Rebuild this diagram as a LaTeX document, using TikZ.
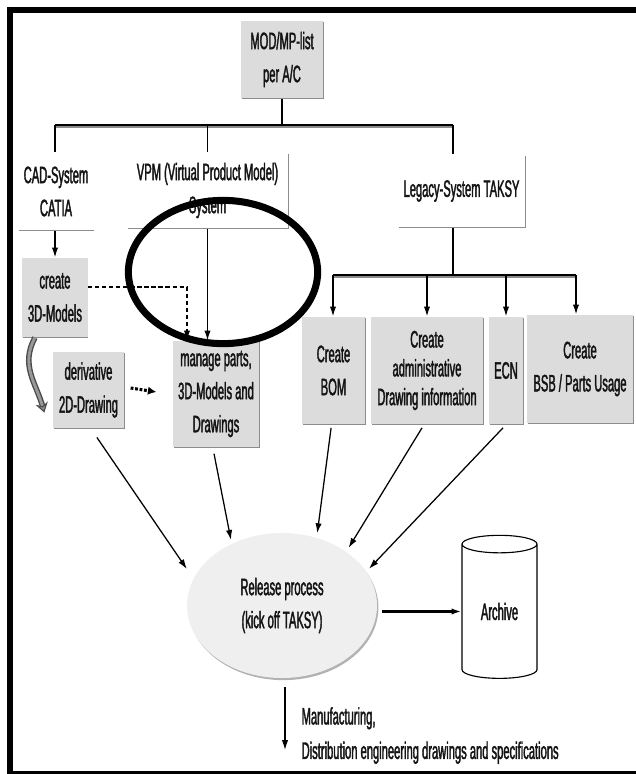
\documentclass[tikz,border=0pt]{standalone}
\usepackage{fontspec}
\usepackage{tikz}
\usepackage{xcolor}
\usetikzlibrary{shapes.geometric,arrows.meta,shadows}
\newfontfamily\narrowfont[FakeStretch=0.47, FakeBold=1.6]{Liberation Sans}
\definecolor{FontColor}{HTML}{141414}
\definecolor{BoxGray}{HTML}{DCDCDC}
\definecolor{EdgeGray}{HTML}{8C8C8C}
\definecolor{BlobGray}{HTML}{EFEFEF}
\newcommand\nodemod{MOD/MP-list\\per A/C}
\newcommand\nodecad{CAD-System\\CATIA}
\newcommand\nodevpm{VPM (Virtual Product Model)\\System}
\newcommand\nodelegacy{Legacy-System TAKSY}
\newcommand\nodecreate{create\\3D-Models}
\newcommand\nodederiv{derivative\\2D-Drawing}
\newcommand\nodemanage{manage parts,\\3D-Models and\\Drawings}
\newcommand\nodebom{Create\\BOM}
\newcommand\nodeadmin{Create\\administrative\\Drawing information}
\newcommand\nodeecn{ECN}
\newcommand\nodebsb{Create\\BSB / Parts Usage}
\newcommand\noderelease{Release process\\(kick off TAKSY)}
\newcommand\nodearchive{Archive}
\newcommand\nodedist{Manufacturing,\\Distribution engineering drawings and specifications}
\tikzstyle{mynodestyle} = [rectangle, inner sep=0pt, align=center, text=FontColor, font=\narrowfont\fontsize{16.9}{23.5}\selectfont]
\tikzstyle{wn} = [mynodestyle, fill=white, drop shadow={shadow xshift=0.7pt, shadow yshift=-0.7pt, fill=EdgeGray, opacity=1}]
\tikzstyle{gn} = [mynodestyle, fill=BoxGray, drop shadow={shadow xshift=0.7pt, shadow yshift=-0.7pt, fill=EdgeGray, opacity=1}]
\tikzstyle{en} = [mynodestyle, ellipse, fill=BlobGray, drop shadow={shadow xshift=1pt, shadow yshift=-1.5pt, fill=black!30, opacity=1}]
\tikzstyle{cn} = [mynodestyle, cylinder, shape border rotate=90, aspect=0.47, draw, line width=0.8pt, fill=white]
\tikzset{>={Latex[length=7pt,width=4.5pt]}, every picture/.style={line width=0.9pt}}

\begin{document}
\begin{tikzpicture}[x=0.025cm, y=-0.025cm]
\useasboundingbox (0,0) rectangle (636,774);
\draw[line width=4.3pt] (640,10) -- (10,10) -- (10,774) -- (640,774);
\node[gn, minimum width=2.05cm, minimum height=1.925cm] (mod) at (282,59.5) {\nodemod};
\node[wn, minimum width=1.875cm, minimum height=1.925cm] (cad) at (56,191.5) {\nodecad};
\node[wn, minimum width=4.025cm, minimum height=1.875cm] (vpm) at (207.5,190.5) {\nodevpm};
\node[wn, minimum width=3.175cm, minimum height=1.8cm] (legacy) at (461.5,191) {\nodelegacy};
\node[gn, minimum width=1.625cm, minimum height=1.975cm] (create) at (55,297.5) {\nodecreate};
\node[gn, minimum width=1.775cm, minimum height=1.9cm] (deriv) at (88.5,390) {\nodederiv};
\node[gn, minimum width=2.15cm, minimum height=2.65cm] (manage) at (216,394) {\nodemanage};
\node[gn, minimum width=1.575cm, minimum height=2.675cm] (bom) at (333.5,370.5) {\nodebom};
\node[gn, minimum width=2.8cm, minimum height=2.675cm, font=\narrowfont\fontsize{16.9}{20.5}\selectfont] (admin) at (427,370.5) {\nodeadmin};
\node[gn, minimum width=0.85cm, minimum height=2.675cm] (ecn) at (506,370.5) {\nodeecn};
\node[gn, minimum width=2.65cm, minimum height=2.7cm] (bsb) at (580,369) {\nodebsb};
\node[en, minimum width=4.75cm, minimum height=3.625cm] (release) at (282,605.5) {\noderelease};
\node[cn, minimum width=1.875cm, minimum height=3.575cm] (archive) at (499.5,611.5) {\nodearchive};
\node[mynodestyle, anchor=west, align=left, font=\narrowfont\fontsize{16.9}{24.5}\selectfont] (dist) at (301,735.5) {\nodedist};
\coordinate (busl) at (55,125);
\coordinate (busr) at (453,125);
\coordinate (lbusl) at (333,275);
\coordinate (lbusr) at (576,275);
\coordinate (out) at (285,750);
\draw[EdgeGray, line width=2.5pt] ([yshift=-1pt]busl) -- ([yshift=-1pt]busr);
\draw (busl) -- (busr);
\draw (mod.south) -- (mod.south |- busl);
\draw (busl) -- (busl |- cad.north);
\draw (vpm.north |- busl) -- (vpm.north);
\draw (busr) -- (busr |- legacy.north);
\draw[EdgeGray, line width=2.5pt] ([yshift=-1pt]lbusl) -- ([yshift=-1pt]lbusr);
\draw (lbusl) -- (lbusr);
\draw (busr |- legacy.south) -- (busr |- lbusl);
\draw[->] (lbusl) -- (lbusl |- bom.north);
\draw[->] (admin.north |- lbusl) -- (admin.north);
\draw[->] (ecn.north |- lbusl) -- (ecn.north);
\draw[->] (lbusr) -- (lbusr |- bsb.north);
\draw[->] (busl |- cad.south) -- (busl |- create.north);
\draw[densely dashed, ->] (create.east |- 0,287) -| ([xshift=-0.725cm]manage.north);
\draw[->] (vpm.south) -- (vpm.south |- manage.north);
\draw[black!70, line width=4pt] ([xshift=-0.5cm]create.south) .. controls (20,365) and (36,383) .. ([xshift=-0.24cm,yshift=0.55cm]deriv.south west);
\draw[black!40, line width=2pt, -{Stealth[length=7pt,width=9pt,color=black!70,fill=black!45,line width=0.8pt]}] ([xshift=-0.5cm]create.south) .. controls (20,365) and (36,383) .. ([xshift=-0.2cm,yshift=0.4cm]deriv.south west);
\draw[line width=2.2pt, dash pattern=on 2pt off 1.2pt, -{Latex[length=6pt,width=6pt]}] ([xshift=0.15cm,yshift=0.05cm]deriv.east) -- ([xshift=-0.4cm,yshift=0.05cm]manage.west);
\draw[->, shorten >=8pt] ([xshift=0.21cm,yshift=-0.22cm]deriv.south) -- (release.163);
\draw[->, shorten >=2.5pt] ([xshift=-0.05cm,yshift=-0.15cm]manage.south) -- (release.129);
\draw[->, shorten >=3pt] ([xshift=-0.06cm,yshift=-0.08cm]bom.south) -- (release.63);
\draw[->, shorten >=3pt] ([xshift=-0.125cm,yshift=-0.08cm]admin.south) -- (release.40);
\draw[->, shorten >=2.5pt] ([xshift=-0.075cm,yshift=-0.08cm]ecn.south) -- (release.22);
\draw[->, line width=1.6pt, shorten <=3pt] (release.east |- archive.west) -- (archive.west);
\draw[->, shorten <=6pt] (out |- release.south) -- (out);
\node[ellipse, draw, line width=5pt, minimum width=4.73cm, minimum height=3.58cm] (note) at (223,272) {};
\end{tikzpicture}
\end{document}
